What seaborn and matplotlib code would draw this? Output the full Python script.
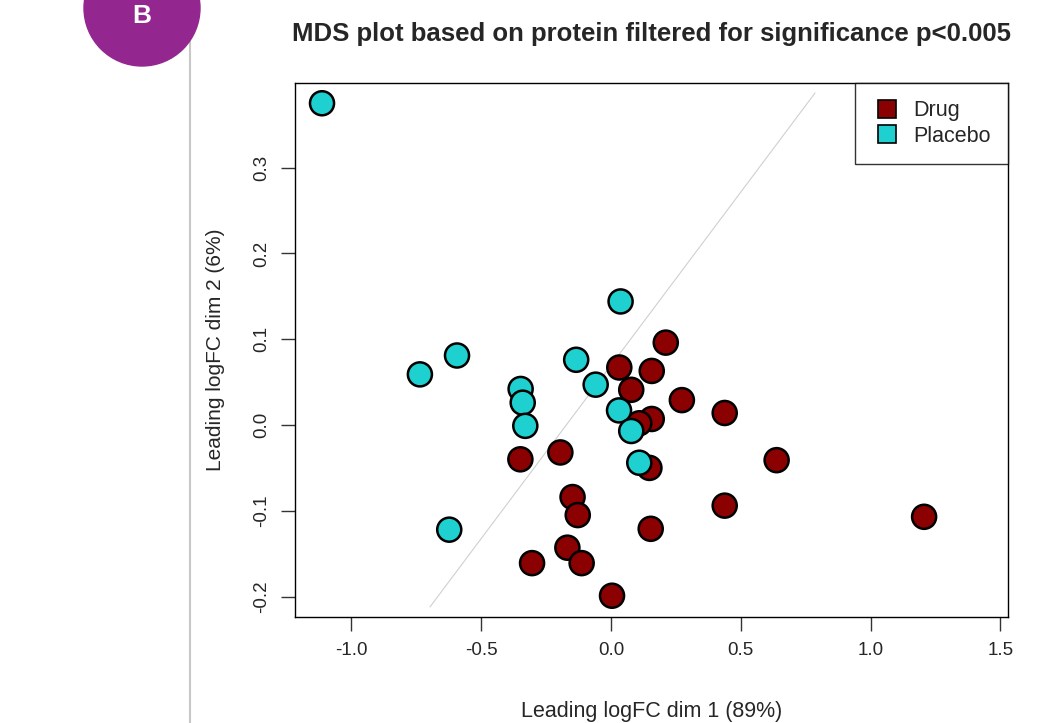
import pandas as pd
import matplotlib
matplotlib.use("Agg")
import matplotlib.pyplot as plt
import seaborn as sns
from matplotlib.lines import Line2D
from matplotlib.patches import Circle

# MDS coordinates
drug_x = [0.211, 0.032, 0.157, 0.078, 0.273, 0.438, 0.157, 0.109, 0.148, -0.349,
          -0.195, -0.148, -0.128, 0.438, 0.153, -0.168, -0.113, -0.304, 0.004, 0.638, 1.206]
drug_y = [0.096, 0.067, 0.063, 0.041, 0.029, 0.014, 0.007, 0.002, -0.050, -0.040,
          -0.032, -0.084, -0.105, -0.094, -0.121, -0.143, -0.161, -0.161, -0.199, -0.041, -0.107]
placebo_x = [0.037, -0.593, -0.736, -0.134, -0.059, -0.348, -0.340, -0.330, 0.031,
             0.078, 0.109, -0.623, -1.113]
placebo_y = [0.144, 0.081, 0.059, 0.076, 0.047, 0.042, 0.026, -0.001, 0.017,
             -0.007, -0.044, -0.122, 0.375]

groups = ["Drug", "Placebo"]
group_colors = {"Drug": "#8b0000", "Placebo": "#1fd0d0"}

# faint reference line
line_x = [-0.697, 0.786]
line_y = [-0.212, 0.387]

x_ticks = [-1.0, -0.5, 0.0, 0.5, 1.0, 1.5]
y_ticks = [-0.2, -0.1, 0.0, 0.1, 0.2, 0.3]

df = pd.DataFrame({
    "dim1": drug_x + placebo_x,
    "dim2": drug_y + placebo_y,
    "group": ["Drug"] * len(drug_x) + ["Placebo"] * len(placebo_x),
})

sns.set_theme(style="white")
plt.rcParams["font.family"] = ["Liberation Sans", "DejaVu Sans"]

fig = plt.figure(figsize=(10.48, 7.23), dpi=100)

# decorative panel badge and divider
deco = fig.add_axes([0, 0, 1, 1])
deco.set_xlim(0, 1048)
deco.set_ylim(723, 0)
deco.axis("off")
deco.plot([189.5, 189.5], [40, 723], color="#c8c8c8", lw=1.5)
deco.add_patch(Circle((142, 8), 58, color="#93278f", zorder=3))
deco.text(142, 16, "B", color="white", fontsize=19, fontweight="bold",
          ha="center", va="center", zorder=4)

ax = fig.add_axes([0.2815, 0.1466, 0.6803, 0.7386])
ax.plot(line_x, line_y, color="#d0d0d0", lw=0.8, zorder=1)
sns.scatterplot(data=df, x="dim1", y="dim2", hue="group", hue_order=groups,
                palette=group_colors, s=300, edgecolor="black", linewidth=1.8,
                legend=False, ax=ax, zorder=2)

ax.set_xlim(-1.217, 1.529)
ax.set_ylim(-0.2238, 0.3986)
ax.set_xticks(x_ticks)
ax.set_xticklabels([f"{t:.1f}" for t in x_ticks])
ax.set_yticks(y_ticks)
ax.set_yticklabels([f"{t:.1f}" for t in y_ticks], rotation=90, va="center")
ax.tick_params(direction="out", length=10, width=1, color="#333333",
               labelsize=13.5, pad=8, left=True, bottom=True)
for sp in ax.spines.values():
    sp.set_color("black")
    sp.set_linewidth(1.0)

ax.set_xlabel("Leading logFC dim 1 (89%)", fontsize=15.5, labelpad=30)
ax.set_ylabel("Leading logFC dim 2 (6%)", fontsize=15, labelpad=20)
fig.text(0.622, 0.953, "MDS plot based on protein filtered for significance p<0.005",
         ha="center", va="center", fontsize=18.5, fontweight="bold")

handles = [Line2D([], [], marker="s", ls="", markersize=13, markerfacecolor=group_colors[g],
                  markeredgecolor="black", markeredgewidth=1.2, label=g) for g in groups]
leg = ax.legend(handles=handles, loc="upper right", fontsize=15.5, frameon=True,
                fancybox=False, borderaxespad=0, handletextpad=0.5, borderpad=0.8,
                labelspacing=0.2, handlelength=1.4)
leg.get_frame().set_edgecolor("black")
leg.get_frame().set_linewidth(1.0)

fig.savefig("out.png", dpi=100)
